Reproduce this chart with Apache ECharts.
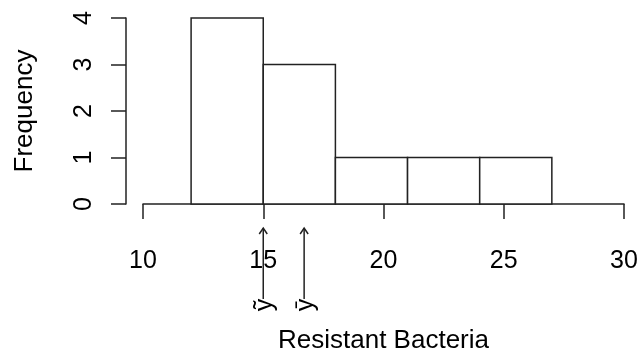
<!DOCTYPE html>
<html>
<head>
<meta charset="utf-8">
<script src="https://cdn.jsdelivr.net/npm/echarts@6/dist/echarts.min.js"></script>
<style>
  html, body { margin: 0; padding: 0; background: #fff; }
  #chart { width: 640px; height: 349px; }
</style>
</head>
<body>
<div id="chart"></div>
<script>
// Histogram bins (left edge, right edge) and their counts
const binStarts = [12, 15, 18, 21, 24];
const binEnds = [15, 18, 21, 24, 27];
const binCounts = [4, 3, 1, 1, 1];

// Axis ticks
const xTicks = [10, 15, 20, 25, 30];
const yTicks = [0, 1, 2, 3, 4];

// Centre markers: median and mean
const markerValues = [15, 16.7];
const markerLabels = ['\u1EF9', '\u0233'];

const FONT = '"Liberation Sans", Arial, sans-serif';
const INK = '#222';
const LW = 1.5;

const histData = binStarts.map((s, i) => [s, binEnds[i], binCounts[i]]);
const markerData = markerValues.map(v => [v]);

const chart = echarts.init(document.getElementById('chart'), null, { renderer: 'canvas' });

chart.setOption({
  animation: false,
  backgroundColor: '#fff',
  grid: { left: 143, right: 16, top: 18, bottom: 145, containLabel: false, outerBoundsMode: 'none' },
  xAxis: {
    type: 'value',
    min: xTicks[0],
    max: xTicks[xTicks.length - 1],
    interval: xTicks[1] - xTicks[0],
    offset: 7,
    name: 'Resistant Bacteria',
    nameLocation: 'middle',
    nameGap: 117,
    nameTextStyle: { fontFamily: FONT, fontSize: 26, color: '#000' },
    axisLine: { show: true, lineStyle: { color: INK, width: LW } },
    axisTick: { show: true, length: 15, lineStyle: { color: INK, width: LW } },
    axisLabel: { fontFamily: FONT, fontSize: 25, color: '#000', margin: 38 },
    splitLine: { show: false }
  },
  yAxis: {
    type: 'value',
    min: yTicks[0],
    max: yTicks[yTicks.length - 1],
    interval: yTicks[1] - yTicks[0],
    offset: 17,
    name: 'Frequency',
    nameLocation: 'middle',
    nameRotate: 90,
    nameGap: 88,
    nameTextStyle: { fontFamily: FONT, fontSize: 26, color: '#000' },
    axisLine: { show: true, lineStyle: { color: INK, width: LW } },
    axisTick: { show: true, length: 15, lineStyle: { color: INK, width: LW } },
    axisLabel: { fontFamily: FONT, fontSize: 25, color: '#000', margin: 29, rotate: 90 },
    splitLine: { show: false }
  },
  series: [
    {
      type: 'custom',
      name: 'bins',
      data: histData,
      encode: { x: [0, 1], y: 2 },
      renderItem: function (params, api) {
        const p0 = api.coord([api.value(0), 0]);
        const p1 = api.coord([api.value(1), api.value(2)]);
        return {
          type: 'rect',
          shape: { x: p0[0], y: p1[1], width: p1[0] - p0[0], height: p0[1] - p1[1] },
          style: { fill: '#fff', stroke: INK, lineWidth: LW }
        };
      }
    },
    {
      type: 'custom',
      name: 'markers',
      data: markerData,
      encode: { x: 0 },
      clip: false,
      renderItem: function (params, api) {
        const p = api.coord([api.value(0), 0]);
        const x = p[0];
        const top = p[1] + 24;
        const bottom = p[1] + 95;
        const head = 6;
        return {
          type: 'group',
          children: [
            {
              type: 'line',
              shape: { x1: x, y1: bottom, x2: x, y2: top },
              style: { stroke: INK, lineWidth: LW }
            },
            {
              type: 'polyline',
              shape: { points: [[x - 4, top + head], [x, top], [x + 4, top + head]] },
              style: { stroke: INK, lineWidth: LW, fill: null }
            },
            {
              type: 'text',
              x: x + 2,
              y: p[1] + 101,
              rotation: Math.PI / 2,
              style: {
                text: markerLabels[params.dataIndex],
                fontFamily: FONT,
                fontSize: 25,
                fill: '#000',
                align: 'center',
                verticalAlign: 'middle'
              }
            }
          ]
        };
      }
    }
  ]
});
</script>
</body>
</html>
